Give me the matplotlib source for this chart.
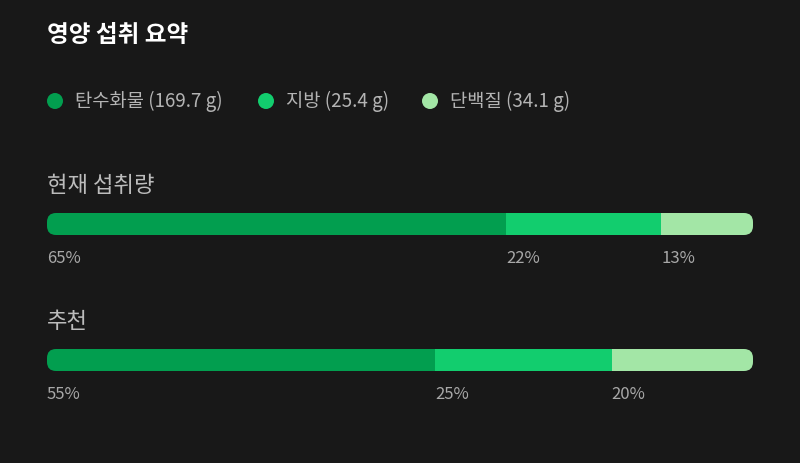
import matplotlib.pyplot as plt
from matplotlib.patches import FancyBboxPatch, Circle
from matplotlib.transforms import IdentityTransform

plt.rcParams['font.family'] = ['Noto Sans CJK KR', 'DejaVu Sans']

title = "영양 섭취 요약"
nutrients = ["탄수화물", "지방", "단백질"]
grams = [169.7, 25.4, 34.1]
colors = ["#029e4f", "#12cd6e", "#a3e6a6"]
rows = ["현재 섭취량", "추천"]
current = [65, 22, 13]
recommended = [55, 25, 20]
shares = [current, recommended]

W, H = 800, 463
bg = "#181818"
fig = plt.figure(figsize=(W / 100, H / 100), dpi=100, facecolor=bg)

def fx(px):
    return px / W

def fy(py):
    return 1 - py / H

fig.text(fx(47), fy(35), title, color="white", fontsize=17, fontweight="bold",
         va="center", ha="left")

# legend
leg_x = [55, 266, 430]
for x, name, g, c in zip(leg_x, nutrients, grams, colors):
    fig.patches.append(Circle((x, H - 101), 8, transform=IdentityTransform(),
                              facecolor=c, edgecolor="none"))
    fig.text(fx(x + 20), fy(101), f"{name} ({g} g)", color="#b4b4b4",
             fontsize=13.5, va="center", ha="left")

bar_left, bar_w, bar_h = 47, 706, 22
bar_tops = [213, 349]
label_y = [186, 322]
for top, ly, rname, vals in zip(bar_tops, label_y, rows, shares):
    fig.text(fx(47), fy(ly), rname, color="#bcbcbc", fontsize=16,
             va="center", ha="left")
    ax = fig.add_axes([fx(bar_left), fy(top + bar_h), bar_w / W, bar_h / H])
    ax.set_xlim(0, 100)
    ax.set_ylim(0, 1)
    ax.axis("off")
    clip = FancyBboxPatch((bar_left, H - top - bar_h), bar_w, bar_h,
                          boxstyle="round,pad=0,rounding_size=9",
                          transform=IdentityTransform(), facecolor="none",
                          edgecolor="none")
    left = 0
    for v, c in zip(vals, colors):
        b = ax.barh(0.5, v, left=left, height=1, color=c, linewidth=0)
        for p in b:
            p.set_clip_path(clip)
        ax.text(left, -0.7, f"{v}%", color="#a8a8a8", fontsize=12,
                va="top", ha="left", clip_on=False)
        left += v

fig.savefig("out.png", dpi=100, facecolor=bg)
